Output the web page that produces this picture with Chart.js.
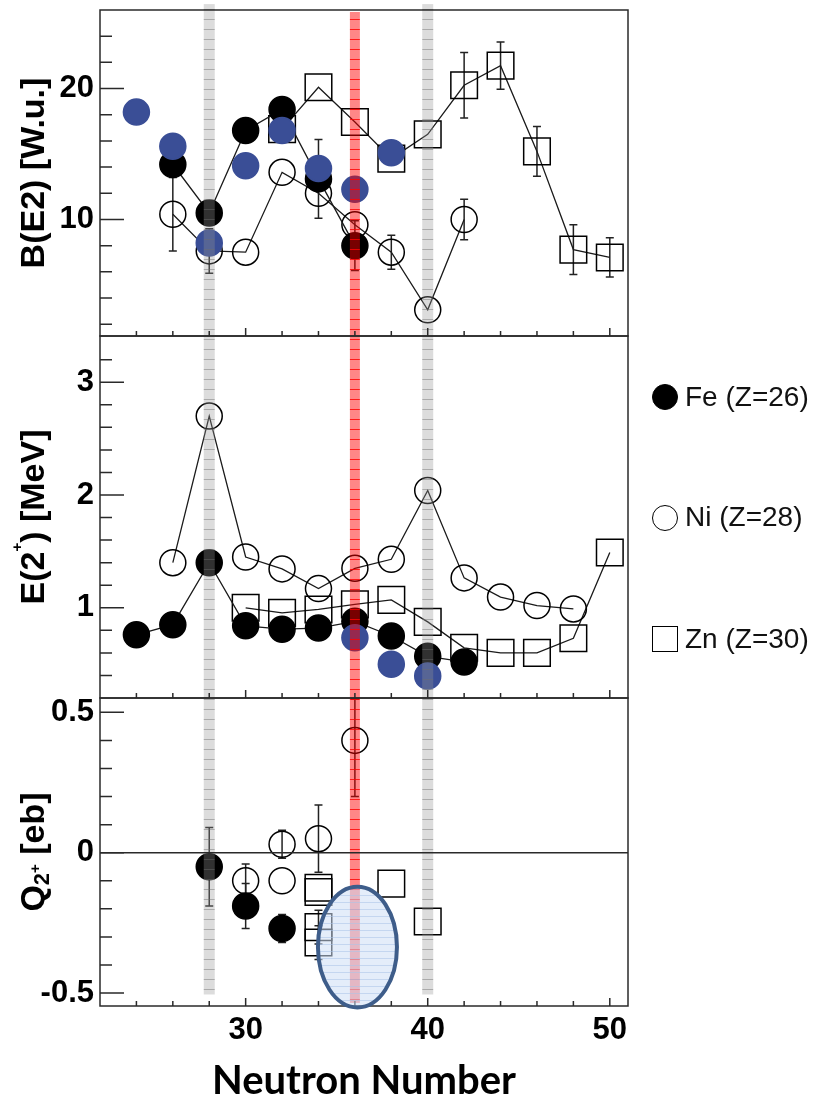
<!DOCTYPE html>
<html>
<head>
<meta charset="utf-8">
<title>B(E2), E(2+) and Q systematics</title>
<script src="https://cdn.jsdelivr.net/npm/chart.js@4.4.1/dist/chart.umd.min.js"></script>
<style>
  body { margin: 0; background: #fff; }
  #page { position: relative; width: 820px; height: 1094px; overflow: hidden; }
  #plot { position: absolute; left: 0; top: 0; }
  .key { position: absolute; left: 685px; font: 28px "Liberation Sans", Arial, sans-serif; line-height: 28px; color: #111; white-space: nowrap; }
  .mark { position: absolute; left: 652px; width: 24px; height: 24px; border: 1.5px solid #000; }
</style>
</head>
<body>
<div id="page">
  <canvas id="plot" width="820" height="1094"></canvas>
  <div class="mark" style="top:384px;border-radius:50%;background:#000"></div>
  <div class="key" style="top:383px">Fe (Z=26)</div>
  <div class="mark" style="top:505px;border-radius:50%"></div>
  <div class="key" style="top:503px">Ni (Z=28)</div>
  <div class="mark" style="top:626px"></div>
  <div class="key" style="top:625px">Zn (Z=30)</div>
</div>
<script>
// B(E2) panel [W.u.]
const bFeN = [26, 28, 30, 32, 34, 36];
const bFe = [14.2, 10.5, 16.8, 18.4, 13.1, 8.0];
const bFeErr = [0, 0, 0, 0, 3.0, 1.9];
const bNiN = [26, 28, 30, 32, 34, 36, 38, 40, 42];
const bNi = [10.4, 7.6, 7.5, 13.6, 12.0, 9.6, 7.5, 3.1, 10.0];
const bNiErr = [2.8, 1.7, 0, 0, 0, 0, 1.3, 0, 1.55];
const bZnN = [32, 34, 36, 38, 40, 42, 44, 46, 48, 50];
const bZn = [16.9, 20.1, 17.45, 14.65, 16.5, 20.25, 21.75, 15.2, 7.7, 7.1];
const bZnErr = [0, 0, 0, 0, 0, 2.5, 1.8, 1.9, 1.9, 1.5];
const bNewN = [24, 26, 28, 30, 32, 34, 36, 38];
const bNew = [18.2, 15.6, 8.2, 14.1, 16.8, 13.9, 12.3, 15.1];

// E(2+) panel [MeV]
const eFeN = [24, 26, 28, 30, 32, 34, 36, 38, 40, 42];
const eFe = [0.76, 0.85, 1.40, 0.84, 0.81, 0.82, 0.88, 0.75, 0.57, 0.52];
const eNiN = [26, 28, 30, 32, 34, 36, 38, 40, 42, 44, 46, 48];
const eNi = [1.40, 2.70, 1.45, 1.345, 1.17, 1.35, 1.43, 2.04, 1.265, 1.095, 1.02, 0.99];
const eZnN = [30, 32, 34, 36, 38, 40, 42, 44, 46, 48, 50];
const eZn = [1.0, 0.955, 0.985, 1.03, 1.07, 0.875, 0.645, 0.60, 0.60, 0.73, 1.49];
const eNewN = [36, 38, 40];
const eNew = [0.735, 0.50, 0.395];

// Q(2+) panel [eb]
const qFeN = [28, 30, 32];
const qFe = [-0.05, -0.19, -0.27];
const qFeErr = [0.14, 0.08, 0.05];
const qNiN = [30, 32, 32, 34, 36];
const qNi = [-0.10, 0.03, -0.10, 0.05, 0.40];
const qNiErr = [0.06, 0.05, 0, 0.12, 0.2];
const qZnN = [34, 34, 34, 34, 38, 40];
const qZn = [-0.125, -0.14, -0.265, -0.32, -0.11, -0.245];
const qZnErr = [0, 0, 0.06, 0.06, 0, 0];

// ticks
const xTicks = [24, 26, 28, 30, 32, 34, 36, 38, 40, 42, 44, 46, 48, 50];
const xLabels = [30, 40, 50];
const bTicks = [2, 4, 6, 8, 10, 12, 14, 16, 18, 20, 22, 24];
const bLabels = [10, 20];
const eTicks = [0.4, 0.6, 0.8, 1, 1.2, 1.4, 1.6, 1.8, 2, 2.2, 2.4, 2.6, 2.8, 3, 3.2];
const eLabels = [1, 2, 3];
const qTicks = [-0.5, -0.4, -0.3, -0.2, -0.1, 0, 0.1, 0.2, 0.3, 0.4, 0.5];
const qLabels = [-0.5, 0, 0.5];

// marked neutron numbers (shell closures / region of interest)
const grayBandN = [28, 40];
const redBandN = [36];

const pts = (n, v) => n.map((x, i) => ({ x: x, y: v[i] }));

const lineColor = '#1a1a1a';
const blue = '#3a4e96';
const tickFont = { family: '"Liberation Sans", Arial, sans-serif', size: 31, weight: 'bold' };

function series(label, n, v, axis, kind, err, line) {
    const ds = {
        label: label,
        data: pts(n, v),
        yAxisID: axis,
        err: err || null,
        showLine: line,
        borderColor: lineColor,
        borderWidth: 1.3,
        pointBorderWidth: 1.5,
        pointBorderColor: '#000',
        pointStyle: 'circle',
        pointRadius: 13,
        pointHoverRadius: 13,
        pointBackgroundColor: 'rgba(0,0,0,0)',
        fill: false
    };
    if (kind === 'fe') {
        ds.pointBackgroundColor = '#000';
    } else if (kind === 'zn') {
        ds.pointStyle = 'rect';
        ds.pointRadius = 18.8;
        ds.pointHoverRadius = 18.8;
    } else if (kind === 'new') {
        ds.pointBackgroundColor = blue;
        ds.pointBorderColor = blue;
    }
    return ds;
}

// first dataset is drawn on top
const datasets = [
    series('new B(E2)', bNewN, bNew, 'yB', 'new', null, false),
    series('new E(2+)', eNewN, eNew, 'yE', 'new', null, false),
    series('Fe (Z=26)', bFeN, bFe, 'yB', 'fe', bFeErr, true),
    series('Fe E', eFeN, eFe, 'yE', 'fe', null, true),
    series('Fe Q', qFeN, qFe, 'yQ', 'fe', qFeErr, false),
    series('Ni (Z=28)', bNiN, bNi, 'yB', 'ni', bNiErr, true),
    series('Ni E', eNiN, eNi, 'yE', 'ni', null, true),
    series('Ni Q', qNiN, qNi, 'yQ', 'ni', qNiErr, false),
    series('Zn (Z=30)', bZnN, bZn, 'yB', 'zn', bZnErr, true),
    series('Zn E', eZnN, eZn, 'yE', 'zn', null, true),
    series('Zn Q', qZnN, qZn, 'yQ', 'zn', qZnErr, false)
];

const panels = [
    { id: 'yB', ticks: bTicks, labels: bLabels },
    { id: 'yE', ticks: eTicks, labels: eLabels },
    { id: 'yQ', ticks: qTicks, labels: qLabels }
];

function yScale(p, min, max, weight, order) {
    return {
        type: 'linear',
        position: 'left',
        stack: 'panels',
        stackWeight: weight,
        weight: order,
        min: min,
        max: max,
        grid: { display: false, drawTicks: false },
        border: { display: false },
        afterBuildTicks: s => { s.ticks = p.ticks.map(v => ({ value: v })); },
        afterFit: s => { s.width = 100; s.paddingTop = 0; s.paddingBottom = 0; },
        ticks: {
            autoSkip: false,
            padding: 6,
            color: '#000',
            font: tickFont,
            callback: v => p.labels.includes(v) ? String(v) : ''
        }
    };
}

function stripes(ctx, base, line, step) {
    const c = document.createElement('canvas');
    c.width = step;
    c.height = step;
    const g = c.getContext('2d');
    g.fillStyle = base;
    g.fillRect(0, 0, step, step);
    g.fillStyle = line;
    g.fillRect(0, step - 1, step, 1);
    return ctx.createPattern(c, 'repeat');
}

const errorBars = {
    id: 'errorBars',
    beforeDatasetsDraw(chart) {
        const ctx = chart.ctx;
        const x = chart.scales.x;
        ctx.save();
        ctx.strokeStyle = '#222';
        ctx.lineWidth = 1.5;
        chart.data.datasets.forEach(ds => {
            if (!ds.err) return;
            const ys = chart.scales[ds.yAxisID];
            ds.data.forEach((p, i) => {
                const e = ds.err[i];
                if (!e) return;
                const px = x.getPixelForValue(p.x);
                const top = Math.max(ys.getPixelForValue(p.y + e), ys.top + 1);
                const bot = Math.min(ys.getPixelForValue(p.y - e), ys.bottom - 1);
                ctx.beginPath();
                ctx.moveTo(px, top);
                ctx.lineTo(px, bot);
                ctx.moveTo(px - 4, top);
                ctx.lineTo(px + 4, top);
                ctx.moveTo(px - 4, bot);
                ctx.lineTo(px + 4, bot);
                ctx.stroke();
            });
        });
        ctx.restore();
    }
};

function drawTitle(ctx, cx, cy, parts) {
    ctx.save();
    ctx.translate(cx, cy);
    ctx.rotate(-Math.PI / 2);
    ctx.fillStyle = '#000';
    ctx.textBaseline = 'alphabetic';
    let total = 0;
    parts.forEach(p => {
        ctx.font = 'bold ' + p[1] + 'px "Liberation Sans", Arial, sans-serif';
        p.w = ctx.measureText(p[0]).width;
        total += p.w;
    });
    let pos = -total / 2;
    parts.forEach(p => {
        ctx.font = 'bold ' + p[1] + 'px "Liberation Sans", Arial, sans-serif';
        ctx.fillText(p[0], pos, p[2]);
        pos += p.w;
    });
    ctx.restore();
}

const overlays = {
    id: 'overlays',
    afterDatasetsDraw(chart) {
        const ctx = chart.ctx;
        const { x, yB, yQ } = chart.scales;
        const left = chart.chartArea.left;
        const right = chart.chartArea.right;
        ctx.save();

        // vertical bands
        ctx.fillStyle = stripes(ctx, 'rgba(150,150,150,0.33)', 'rgba(110,110,110,0.45)', 10);
        grayBandN.forEach(n => {
            const px = x.getPixelForValue(n);
            const top = yB.getPixelForValue(26.45);
            const bot = yQ.getPixelForValue(-0.505);
            ctx.fillRect(px - 5.5, top, 11, bot - top);
        });
        ctx.fillStyle = stripes(ctx, 'rgba(255,0,0,0.47)', 'rgba(255,0,0,0.8)', 10);
        redBandN.forEach(n => {
            const px = x.getPixelForValue(n);
            const top = yB.getPixelForValue(25.85);
            const bot = yQ.getPixelForValue(-0.535);
            ctx.fillRect(px - 5, top, 10, bot - top);
        });

        // panel frames and inward ticks
        ctx.strokeStyle = '#2a2a2a';
        ctx.lineWidth = 1.5;
        panels.forEach(p => {
            const s = chart.scales[p.id];
            ctx.strokeRect(left, s.top, right - left, s.bottom - s.top);
            ctx.beginPath();
            xTicks.forEach(v => {
                const px = x.getPixelForValue(v);
                ctx.moveTo(px, s.bottom);
                ctx.lineTo(px, s.bottom - (xLabels.includes(v) ? 8 : 5));
            });
            p.ticks.forEach(v => {
                const py = s.getPixelForValue(v);
                ctx.moveTo(left, py);
                ctx.lineTo(left + (p.labels.includes(v) ? 24 : 12), py);
            });
            ctx.stroke();
        });
        const y0 = yQ.getPixelForValue(0);
        ctx.beginPath();
        ctx.moveTo(left, y0);
        ctx.lineTo(right, y0);
        ctx.stroke();

        // highlighted region around N=36 in the Q panel
        const cx = x.getPixelForValue(36.14);
        const cy = yQ.getPixelForValue(-0.336);
        const rx = x.getPixelForValue(36.14 + 2.17) - cx;
        const ry = yQ.getPixelForValue(-0.336 - 0.215) - cy;
        ctx.beginPath();
        ctx.ellipse(cx, cy, rx, ry, 0, 0, Math.PI * 2);
        ctx.fillStyle = stripes(ctx, 'rgba(205,222,246,0.55)', 'rgba(170,195,232,0.55)', 7);
        ctx.fill();
        ctx.lineWidth = 4;
        ctx.strokeStyle = '#3e5d8a';
        ctx.stroke();
        ctx.restore();
    },
    afterDraw(chart) {
        const ctx = chart.ctx;
        const mid = id => (chart.scales[id].top + chart.scales[id].bottom) / 2;
        drawTitle(ctx, 43.5, mid('yB'), [['B(E2) [W.u.]', 34, 0]]);
        drawTitle(ctx, 43.5, mid('yE'), [['E(2', 34, 0], ['+', 15, -22], [') [MeV]', 34, 0]]);
        drawTitle(ctx, 43.5, mid('yQ'), [['Q', 34, 0], ['2', 22, 5], ['+', 15, -4], [' [eb]', 34, 0]]);
    }
};

const ctx = document.getElementById('plot').getContext('2d');
const chart = new Chart(ctx, {
    type: 'line',
    data: { datasets: datasets },
    options: {
        responsive: false,
        animation: false,
        devicePixelRatio: 1,
        layout: { autoPadding: false, padding: { top: 10, right: 192, left: 0, bottom: 0 } },
        elements: { line: { tension: 0 } },
        plugins: {
            legend: { display: false },
            tooltip: { enabled: false }
        },
        scales: {
            x: {
                type: 'linear',
                min: 22,
                max: 51,
                grid: { display: false, drawTicks: false },
                border: { display: false },
                afterBuildTicks: s => { s.ticks = xTicks.map(v => ({ value: v })); },
                afterFit: s => { s.height = 88; s.paddingLeft = 0; s.paddingRight = 0; },
                ticks: {
                    autoSkip: false,
                    maxRotation: 0,
                    padding: 6,
                    color: '#000',
                    font: tickFont,
                    callback: v => xLabels.includes(v) ? String(v) : ''
                },
                title: {
                    display: true,
                    text: 'Neutron Number',
                    color: '#000',
                    font: { family: 'Lato, "Open Sans", sans-serif', size: 40, weight: 'bold', lineHeight: 0.66 },
                    padding: { top: 0, bottom: 0 }
                }
            },
            yQ: yScale(panels[2], -0.546, 0.551, 308, 1),
            yE: yScale(panels[1], 0.2, 3.41, 362, 2),
            yB: yScale(panels[0], 1.1, 26, 326, 3)
        }
    },
    plugins: [errorBars, overlays]
});
</script>
</body>
</html>
